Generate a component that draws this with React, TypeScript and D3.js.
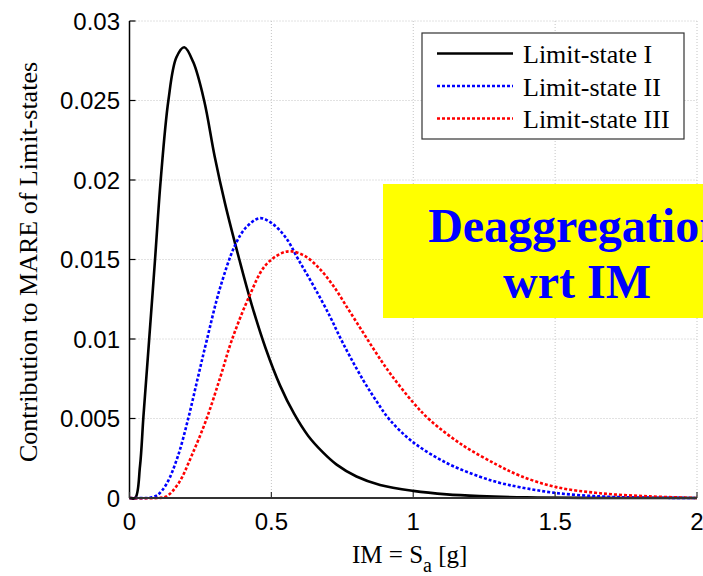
import React from "react";
import * as d3 from "d3";

const xTicks = [0, 0.5, 1, 1.5, 2];
const xTickLabels = ["0", "0.5", "1", "1.5", "2"];
const yTicks = [0, 0.005, 0.01, 0.015, 0.02, 0.025, 0.03];
const yTickLabels = ["0", "0.005", "0.01", "0.015", "0.02", "0.025", "0.03"];

const seriesNames = ["Limit-state I", "Limit-state II", "Limit-state III"];

const xI = [0, 0.02, 0.037, 0.049, 0.069, 0.09, 0.11, 0.137, 0.165, 0.193, 0.225, 0.263, 0.3, 0.337, 0.387, 0.43, 0.48, 0.53, 0.58, 0.63, 0.68, 0.73, 0.8, 0.883, 1.0, 1.118, 1.235, 1.4, 1.6, 2.0];
const yI = [0, 0, 0.002, 0.0051, 0.0099, 0.015, 0.02, 0.025, 0.0277, 0.02835, 0.0274, 0.025, 0.0215, 0.0185, 0.015, 0.0122, 0.0094, 0.0071, 0.0053, 0.0039, 0.0029, 0.0021, 0.00135, 0.00082, 0.00045, 0.00023, 0.00012, 0.00004, 0.00001, 0];

const xII = [0, 0.06, 0.08, 0.1, 0.131, 0.17, 0.207, 0.24, 0.272, 0.319, 0.372, 0.41, 0.458, 0.5, 0.55, 0.595, 0.65, 0.707, 0.742, 0.777, 0.824, 0.87, 0.918, 1.0, 1.118, 1.235, 1.306, 1.376, 1.5, 1.658, 1.8, 2.0];
const yII = [0, 0, 0.00005, 0.0002, 0.0009, 0.0026, 0.005, 0.0075, 0.0099, 0.0132, 0.0159, 0.017, 0.0176, 0.0173, 0.0164, 0.015, 0.0133, 0.0114, 0.0101, 0.0089, 0.0074, 0.0061, 0.0049, 0.0035, 0.0022, 0.00134, 0.00095, 0.00068, 0.00032, 0.0001, 0.00003, 0];

const xIII = [0, 0.1, 0.13, 0.172, 0.22, 0.272, 0.32, 0.36, 0.42, 0.4775, 0.536, 0.572, 0.62, 0.671, 0.72, 0.77, 0.82, 0.87, 0.92, 1.0, 1.059, 1.176, 1.294, 1.376, 1.5, 1.658, 1.834, 2.0];
const yIII = [0, 0, 0.0001, 0.0009, 0.0027, 0.005, 0.0076, 0.0099, 0.0126, 0.0146, 0.0154, 0.01551, 0.0152, 0.0144, 0.0133, 0.0119, 0.0105, 0.0091, 0.0078, 0.006, 0.0049, 0.0033, 0.0021, 0.0014, 0.0007, 0.0003, 0.0001, 0];

const W = 703;
const H = 576;

export default function App() {
  const x = d3.scaleLinear().domain([0, 2]).range([129.5, 697]);
  const y = d3.scaleLinear().domain([0, 0.03]).range([498, 21]);

  const line = d3
    .line<[number, number]>()
    .x((d) => x(d[0]))
    .y((d) => Math.min(y(0), y(d[1])))
    .curve(d3.curveCatmullRom.alpha(0.5));

  const series = [
    { name: seriesNames[0], xs: xI, ys: yI, color: "#000000", dash: undefined as string | undefined },
    { name: seriesNames[1], xs: xII, ys: yII, color: "#0000ff", dash: "3,2" },
    { name: seriesNames[2], xs: xIII, ys: yIII, color: "#ff0000", dash: "3,2" },
  ];

  const gridColor = "#c4c4c4";
  const x0 = x(0), x1 = x(2), y0 = y(0), y1 = y(0.03);

  return (
    <svg width={W} height={H} style={{ position: "absolute", left: 0, top: 0 }}>
      <rect x={0} y={0} width={W} height={H} fill="#ffffff" />
      {/* grid */}
      {xTicks.slice(1).map((t) => (
        <line key={"gx" + t} x1={x(t)} x2={x(t)} y1={y1} y2={y0} stroke={gridColor} strokeWidth={1} strokeDasharray="1,2" />
      ))}
      {yTicks.slice(1).map((t) => (
        <line key={"gy" + t} x1={x0} x2={x1} y1={y(t)} y2={y(t)} stroke={gridColor} strokeWidth={1} strokeDasharray="1,2" />
      ))}
      {/* curves */}
      {series.map((s) => (
        <path
          key={s.name}
          d={line(s.xs.map((v, i) => [v, s.ys[i]] as [number, number])) || ""}
          fill="none"
          stroke={s.color}
          strokeWidth={2.6}
          strokeDasharray={s.dash}
        />
      ))}
      {/* axes */}
      <line x1={x0} x2={x0} y1={y1} y2={y0} stroke="#000" strokeWidth={1.5} />
      <line x1={x0} x2={x1} y1={y0} y2={y0} stroke="#333" strokeWidth={2} />
      {yTicks.map((t, i) => (
        <g key={"yt" + t}>
          <line x1={x0} x2={x0 + 6} y1={y(t)} y2={y(t)} stroke="#000" strokeWidth={1.2} />
          <text
            x={120}
            y={y(t)}
            dy="0.36em"
            textAnchor="end"
            fontFamily="Arial, 'Liberation Sans', Helvetica, sans-serif"
            fontSize={24}
            fill="#000"
          >
            {yTickLabels[i]}
          </text>
        </g>
      ))}
      {xTicks.map((t, i) => (
        <g key={"xt" + t}>
          <line x1={x(t)} x2={x(t)} y1={y0} y2={y0 - 6} stroke="#333" strokeWidth={1.2} />
          <text
            x={x(t)}
            y={530}
            textAnchor="middle"
            fontFamily="Arial, 'Liberation Sans', Helvetica, sans-serif"
            fontSize={24}
            fill="#000"
          >
            {xTickLabels[i]}
          </text>
        </g>
      ))}
      {/* axis labels */}
      <text
        transform={`translate(37,262) rotate(-90)`}
        textAnchor="middle"
        fontFamily="'Times New Roman', 'Liberation Serif', serif"
        fontSize={26}
        fill="#000"
      >
        Contribution to MARE of Limit-states
      </text>
      <text x={352} y={563} fontFamily="'Times New Roman', 'Liberation Serif', serif" fontSize={25} fill="#000">
        IM = S
        <tspan fontSize={20} dy={9}>a</tspan>
        <tspan dy={-9}>{"  [g]"}</tspan>
      </text>
      {/* legend */}
      <rect x={422} y={33} width={262} height={106} fill="#ffffff" stroke="#333" strokeWidth={1.2} />
      {series.map((s, i) => {
        const ly = 53.5 + i * 32.5;
        return (
          <g key={"lg" + s.name}>
            <line x1={437} x2={513} y1={ly} y2={ly} stroke={s.color} strokeWidth={2.6} strokeDasharray={s.dash} />
            <text
              x={523}
              y={ly + 9.5}
              fontFamily="'Times New Roman', 'Liberation Serif', serif"
              fontSize={26}
              fill="#000"
            >
              {s.name}
            </text>
          </g>
        );
      })}
      {/* annotation box */}
      <rect x={383} y={184} width={340} height={134} fill="#ffff00" />
      <text
        x={577}
        y={242}
        textAnchor="middle"
        fontFamily="'Times New Roman', 'Liberation Serif', serif"
        fontWeight="bold"
        fontSize={48}
        fill="#0000ff"
      >
        Deaggregation
      </text>
      <text
        x={577}
        y={298}
        textAnchor="middle"
        fontFamily="'Times New Roman', 'Liberation Serif', serif"
        fontWeight="bold"
        fontSize={48}
        fill="#0000ff"
      >
        wrt IM
      </text>
    </svg>
  );
}
